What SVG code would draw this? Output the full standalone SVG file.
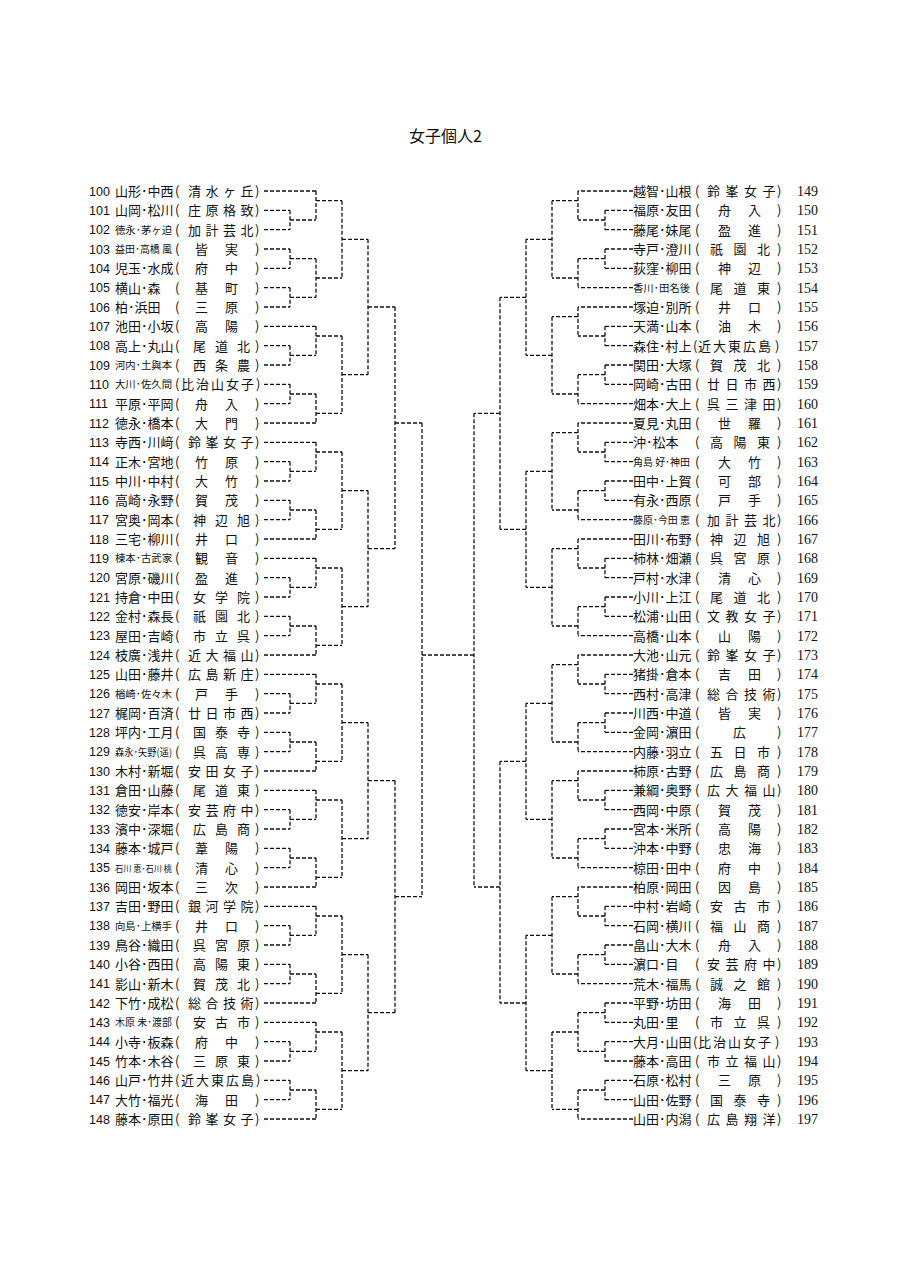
<svg xmlns="http://www.w3.org/2000/svg" width="905" height="1280" viewBox="0 0 905 1280">
<style>
.t{font-family:"Noto Sans CJK JP",sans-serif;font-size:13px;fill:#111}
.s{font-family:"Noto Sans CJK JP",sans-serif;font-size:10px;fill:#111}
.n{font-family:"Liberation Sans",sans-serif;font-size:12.5px;fill:#111}
.rn{font-family:"Liberation Serif",serif;font-size:14px;fill:#111}
.ti{font-family:"Noto Sans CJK JP",sans-serif;font-size:16px;fill:#111}
.c{fill:none;stroke:#111;stroke-width:1.3;stroke-dasharray:4 2}
</style>
<rect width="905" height="1280" fill="#fff"/>
<text id="title" class="ti" x="409" y="142">女子個人2</text>

<g id="connectors">
<path class="c" d="M264 191H316M264 326.3H316M264 423H316M264 442.3H316M264 539H316M264 558.3H316M264 655H316M264 674.3H316M264 771H316M264 790.3H316M264 887H316M264 906.3H316M264 1003H316M264 1022.3H316M264 1119H316"/>
<path class="c" d="M264 210.3H290M264 229.7H290M264 249H290M264 268.3H290M264 287.7H290M264 307H290M264 345.7H290M264 365H290M264 384.3H290M264 403.7H290M264 461.7H290M264 481H290M264 500.3H290M264 519.7H290M264 577.7H290M264 597H290M264 616.3H290M264 635.7H290M264 693.7H290M264 713H290M264 732.3H290M264 751.7H290M264 809.7H290M264 829H290M264 848.3H290M264 867.7H290M264 925.7H290M264 945H290M264 964.3H290M264 983.7H290M264 1041.7H290M264 1061H290M264 1080.3H290M264 1099.7H290"/>
<path class="c" d="M290 210.3V229.7M290 220H316M290 249V268.3M290 258.7H316M290 287.7V307M290 297.3H316M290 345.7V365M290 355.3H316M290 384.3V403.7M290 394H316M290 461.7V481M290 471.3H316M290 500.3V519.7M290 510H316M290 577.7V597M290 587.3H316M290 616.3V635.7M290 626H316M290 693.7V713M290 703.3H316M290 732.3V751.7M290 742H316M290 809.7V829M290 819.3H316M290 848.3V867.7M290 858H316M290 925.7V945M290 935.3H316M290 964.3V983.7M290 974H316M290 1041.7V1061M290 1051.3H316M290 1080.3V1099.7M290 1090H316"/>
<path class="c" d="M316 191V220M316 200.7H342M316 258.7V297.3M316 278H342M316 326.3V355.3M316 336H342M316 394V423M316 413.3H342M316 442.3V471.3M316 452H342M316 510V539M316 529.3H342M316 558.3V587.3M316 568H342M316 626V655M316 645.3H342M316 674.3V703.3M316 684H342M316 742V771M316 761.3H342M316 790.3V819.3M316 800H342M316 858V887M316 877.3H342M316 906.3V935.3M316 916H342M316 974V1003M316 993.3H342M316 1022.3V1051.3M316 1032H342M316 1090V1119M316 1109.3H342"/>
<path class="c" d="M342 200.7V278M342 239.3H368M342 336V413.3M342 374.7H368M342 452V529.3M342 490.7H368M342 568V645.3M342 606.7H368M342 684V761.3M342 722.7H368M342 800V877.3M342 838.7H368M342 916V993.3M342 954.7H368M342 1032V1109.3M342 1070.7H368"/>
<path class="c" d="M368 239.3V374.7M368 307H395M368 490.7V606.7M368 548.7H395M368 722.7V838.7M368 780.7H395M368 954.7V1070.7M368 1012.7H395"/>
<path class="c" d="M395 307V548.7M395 423H422M395 780.7V1012.7M395 896.7H422"/>
<path class="c" d="M422 423V896.7M422 655H474"/>
<path class="c" d="M474 413.3V887"/>
<path class="c" d="M500 297.3V529.3M500 413.3H474M500 761.3V1003M500 887H474"/>
<path class="c" d="M526 239.3V355.3M526 297.3H500M526 471.3V587.3M526 529.3H500M526 703.3V819.3M526 761.3H500M526 935.3V1070.7M526 1003H500"/>
<path class="c" d="M552 200.7V278M552 239.3H526M552 316.7V394M552 355.3H526M552 432.7V510M552 471.3H526M552 548.7V626M552 587.3H526M552 664.7V742M552 703.3H526M552 780.7V858M552 819.3H526M552 896.7V974M552 935.3H526M552 1032V1109.3M552 1070.7H526"/>
<path class="c" d="M578 191V220M578 200.7H552M578 258.7V287.7M578 278H552M578 307V336M578 316.7H552M578 374.7V403.7M578 394H552M578 423V452M578 432.7H552M578 490.7V519.7M578 510H552M578 539V568M578 548.7H552M578 606.7V635.7M578 626H552M578 655V684M578 664.7H552M578 722.7V751.7M578 742H552M578 771V800M578 780.7H552M578 838.7V867.7M578 858H552M578 887V916M578 896.7H552M578 954.7V983.7M578 974H552M578 1012.7V1051.3M578 1032H552M578 1090V1119M578 1109.3H552"/>
<path class="c" d="M605 210.3V229.7M605 220H578M605 249V268.3M605 258.7H578M605 326.3V345.7M605 336H578M605 365V384.3M605 374.7H578M605 442.3V461.7M605 452H578M605 481V500.3M605 490.7H578M605 558.3V577.7M605 568H578M605 597V616.3M605 606.7H578M605 674.3V693.7M605 684H578M605 713V732.3M605 722.7H578M605 790.3V809.7M605 800H578M605 829V848.3M605 838.7H578M605 906.3V925.7M605 916H578M605 945V964.3M605 954.7H578M605 1003V1022.3M605 1012.7H578M605 1041.7V1061M605 1051.3H578M605 1080.3V1099.7M605 1090H578"/>
<path class="c" d="M633 191H578M633 287.7H578M633 307H578M633 403.7H578M633 423H578M633 519.7H578M633 539H578M633 635.7H578M633 655H578M633 751.7H578M633 771H578M633 867.7H578M633 887H578M633 983.7H578M633 1119H578"/>
<path class="c" d="M633 210.3H605M633 229.7H605M633 249H605M633 268.3H605M633 326.3H605M633 345.7H605M633 365H605M633 384.3H605M633 442.3H605M633 461.7H605M633 481H605M633 500.3H605M633 558.3H605M633 577.7H605M633 597H605M633 616.3H605M633 674.3H605M633 693.7H605M633 713H605M633 732.3H605M633 790.3H605M633 809.7H605M633 829H605M633 848.3H605M633 906.3H605M633 925.7H605M633 945H605M633 964.3H605M633 1003H605M633 1022.3H605M633 1041.7H605M633 1061H605M633 1080.3H605M633 1099.7H605"/>
</g>

<g id="left">
<g id="e100" transform="translate(0,191)"><text class="n" x="89" y="4.5">100</text><text class="t" x="115" y="5">山形･中西</text><text class="t" x="175 188 205.5 223 240.5 255" y="5">(清水ヶ丘)</text></g>
<g id="e101" transform="translate(0,210.3)"><text class="n" x="89" y="4.5">101</text><text class="t" x="115" y="5">山岡･松川</text><text class="t" x="175 188 205.5 223 240.5 255" y="5">(庄原格致)</text></g>
<g id="e102" transform="translate(0,229.7)"><text class="n" x="89" y="4.5">102</text><text class="s" x="115" y="4" textLength="57" lengthAdjust="spacingAndGlyphs">徳永･茅ヶ迫</text><text class="t" x="175 188 205.5 223 240.5 255" y="5">(加計芸北)</text></g>
<g id="e103" transform="translate(0,249)"><text class="n" x="89" y="4.5">103</text><text class="s" x="115" y="4" textLength="57" lengthAdjust="spacingAndGlyphs">益田･高橋 風</text><text class="t" x="175 195 225 255" y="5">(皆実)</text></g>
<g id="e104" transform="translate(0,268.3)"><text class="n" x="89" y="4.5">104</text><text class="t" x="115" y="5">児玉･水成</text><text class="t" x="175 195 225 255" y="5">(府中)</text></g>
<g id="e105" transform="translate(0,287.7)"><text class="n" x="89" y="4.5">105</text><text class="t" x="115" y="5">横山･森</text><text class="t" x="175 195 225 255" y="5">(基町)</text></g>
<g id="e106" transform="translate(0,307)"><text class="n" x="89" y="4.5">106</text><text class="t" x="115" y="5">柏･浜田</text><text class="t" x="175 195 225 255" y="5">(三原)</text></g>
<g id="e107" transform="translate(0,326.3)"><text class="n" x="89" y="4.5">107</text><text class="t" x="115" y="5">池田･小坂</text><text class="t" x="175 195 225 255" y="5">(高陽)</text></g>
<g id="e108" transform="translate(0,345.7)"><text class="n" x="89" y="4.5">108</text><text class="t" x="115" y="5">高上･丸山</text><text class="t" x="175 193 215 237 255" y="5">(尾道北)</text></g>
<g id="e109" transform="translate(0,365)"><text class="n" x="89" y="4.5">109</text><text class="s" x="115" y="4" textLength="57" lengthAdjust="spacingAndGlyphs">河内･土與本</text><text class="t" x="175 193 215 237 255" y="5">(西条農)</text></g>
<g id="e110" transform="translate(0,384.3)"><text class="n" x="89" y="4.5">110</text><text class="s" x="115" y="4" textLength="57" lengthAdjust="spacingAndGlyphs">大川･佐久間</text><text class="t" x="175 181 196 211 226 241 256" y="5">(比治山女子)</text></g>
<g id="e111" transform="translate(0,403.7)"><text class="n" x="89" y="4.5">111</text><text class="t" x="115" y="5">平原･平岡</text><text class="t" x="175 195 225 255" y="5">(舟入)</text></g>
<g id="e112" transform="translate(0,423)"><text class="n" x="89" y="4.5">112</text><text class="t" x="115" y="5">徳永･橋本</text><text class="t" x="175 195 225 255" y="5">(大門)</text></g>
<g id="e113" transform="translate(0,442.3)"><text class="n" x="89" y="4.5">113</text><text class="t" x="115" y="5">寺西･川﨑</text><text class="t" x="175 188 205.5 223 240.5 255" y="5">(鈴峯女子)</text></g>
<g id="e114" transform="translate(0,461.7)"><text class="n" x="89" y="4.5">114</text><text class="t" x="115" y="5">正木･宮地</text><text class="t" x="175 195 225 255" y="5">(竹原)</text></g>
<g id="e115" transform="translate(0,481)"><text class="n" x="89" y="4.5">115</text><text class="t" x="115" y="5">中川･中村</text><text class="t" x="175 195 225 255" y="5">(大竹)</text></g>
<g id="e116" transform="translate(0,500.3)"><text class="n" x="89" y="4.5">116</text><text class="t" x="115" y="5">高崎･永野</text><text class="t" x="175 195 225 255" y="5">(賀茂)</text></g>
<g id="e117" transform="translate(0,519.7)"><text class="n" x="89" y="4.5">117</text><text class="t" x="115" y="5">宮奥･岡本</text><text class="t" x="175 193 215 237 255" y="5">(神辺旭)</text></g>
<g id="e118" transform="translate(0,539)"><text class="n" x="89" y="4.5">118</text><text class="t" x="115" y="5">三宅･柳川</text><text class="t" x="175 195 225 255" y="5">(井口)</text></g>
<g id="e119" transform="translate(0,558.3)"><text class="n" x="89" y="4.5">119</text><text class="s" x="115" y="4" textLength="57" lengthAdjust="spacingAndGlyphs">棟本･古武家</text><text class="t" x="175 195 225 255" y="5">(観音)</text></g>
<g id="e120" transform="translate(0,577.7)"><text class="n" x="89" y="4.5">120</text><text class="t" x="115" y="5">宮原･磯川</text><text class="t" x="175 195 225 255" y="5">(盈進)</text></g>
<g id="e121" transform="translate(0,597)"><text class="n" x="89" y="4.5">121</text><text class="t" x="115" y="5">持倉･中田</text><text class="t" x="175 193 215 237 255" y="5">(女学院)</text></g>
<g id="e122" transform="translate(0,616.3)"><text class="n" x="89" y="4.5">122</text><text class="t" x="115" y="5">金村･森長</text><text class="t" x="175 193 215 237 255" y="5">(祇園北)</text></g>
<g id="e123" transform="translate(0,635.7)"><text class="n" x="89" y="4.5">123</text><text class="t" x="115" y="5">屋田･吉崎</text><text class="t" x="175 193 215 237 255" y="5">(市立呉)</text></g>
<g id="e124" transform="translate(0,655)"><text class="n" x="89" y="4.5">124</text><text class="t" x="115" y="5">枝廣･浅井</text><text class="t" x="175 188 205.5 223 240.5 255" y="5">(近大福山)</text></g>
<g id="e125" transform="translate(0,674.3)"><text class="n" x="89" y="4.5">125</text><text class="t" x="115" y="5">山田･藤井</text><text class="t" x="175 188 205.5 223 240.5 255" y="5">(広島新庄)</text></g>
<g id="e126" transform="translate(0,693.7)"><text class="n" x="89" y="4.5">126</text><text class="s" x="115" y="4" textLength="57" lengthAdjust="spacingAndGlyphs">楢崎･佐々木</text><text class="t" x="175 195 225 255" y="5">(戸手)</text></g>
<g id="e127" transform="translate(0,713)"><text class="n" x="89" y="4.5">127</text><text class="t" x="115" y="5">梶岡･百済</text><text class="t" x="175 188 205.5 223 240.5 255" y="5">(廿日市西)</text></g>
<g id="e128" transform="translate(0,732.3)"><text class="n" x="89" y="4.5">128</text><text class="t" x="115" y="5">坪内･工月</text><text class="t" x="175 193 215 237 255" y="5">(国泰寺)</text></g>
<g id="e129" transform="translate(0,751.7)"><text class="n" x="89" y="4.5">129</text><text class="s" x="115" y="4" textLength="57" lengthAdjust="spacingAndGlyphs">森永･矢野(遥)</text><text class="t" x="175 193 215 237 255" y="5">(呉高専)</text></g>
<g id="e130" transform="translate(0,771)"><text class="n" x="89" y="4.5">130</text><text class="t" x="115" y="5">木村･新堀</text><text class="t" x="175 188 205.5 223 240.5 255" y="5">(安田女子)</text></g>
<g id="e131" transform="translate(0,790.3)"><text class="n" x="89" y="4.5">131</text><text class="t" x="115" y="5">倉田･山藤</text><text class="t" x="175 193 215 237 255" y="5">(尾道東)</text></g>
<g id="e132" transform="translate(0,809.7)"><text class="n" x="89" y="4.5">132</text><text class="t" x="115" y="5">徳安･岸本</text><text class="t" x="175 188 205.5 223 240.5 255" y="5">(安芸府中)</text></g>
<g id="e133" transform="translate(0,829)"><text class="n" x="89" y="4.5">133</text><text class="t" x="115" y="5">濱中･深堀</text><text class="t" x="175 193 215 237 255" y="5">(広島商)</text></g>
<g id="e134" transform="translate(0,848.3)"><text class="n" x="89" y="4.5">134</text><text class="t" x="115" y="5">藤本･城戸</text><text class="t" x="175 195 225 255" y="5">(葦陽)</text></g>
<g id="e135" transform="translate(0,867.7)"><text class="n" x="89" y="4.5">135</text><text class="s" x="115" y="4" font-size="8.6" textLength="57" lengthAdjust="spacingAndGlyphs" style="font-size:8.6px">石川 恵･石川 桃</text><text class="t" x="175 195 225 255" y="5">(清心)</text></g>
<g id="e136" transform="translate(0,887)"><text class="n" x="89" y="4.5">136</text><text class="t" x="115" y="5">岡田･坂本</text><text class="t" x="175 195 225 255" y="5">(三次)</text></g>
<g id="e137" transform="translate(0,906.3)"><text class="n" x="89" y="4.5">137</text><text class="t" x="115" y="5">吉田･野田</text><text class="t" x="175 188 205.5 223 240.5 255" y="5">(銀河学院)</text></g>
<g id="e138" transform="translate(0,925.7)"><text class="n" x="89" y="4.5">138</text><text class="s" x="115" y="4" textLength="57" lengthAdjust="spacingAndGlyphs">向島･上横手</text><text class="t" x="175 195 225 255" y="5">(井口)</text></g>
<g id="e139" transform="translate(0,945)"><text class="n" x="89" y="4.5">139</text><text class="t" x="115" y="5">鳥谷･織田</text><text class="t" x="175 193 215 237 255" y="5">(呉宮原)</text></g>
<g id="e140" transform="translate(0,964.3)"><text class="n" x="89" y="4.5">140</text><text class="t" x="115" y="5">小谷･西田</text><text class="t" x="175 193 215 237 255" y="5">(高陽東)</text></g>
<g id="e141" transform="translate(0,983.7)"><text class="n" x="89" y="4.5">141</text><text class="t" x="115" y="5">影山･新木</text><text class="t" x="175 193 215 237 255" y="5">(賀茂北)</text></g>
<g id="e142" transform="translate(0,1003)"><text class="n" x="89" y="4.5">142</text><text class="t" x="115" y="5">下竹･成松</text><text class="t" x="175 188 205.5 223 240.5 255" y="5">(総合技術)</text></g>
<g id="e143" transform="translate(0,1022.3)"><text class="n" x="89" y="4.5">143</text><text class="s" x="115" y="4" textLength="57" lengthAdjust="spacingAndGlyphs">木原 未･渡部</text><text class="t" x="175 193 215 237 255" y="5">(安古市)</text></g>
<g id="e144" transform="translate(0,1041.7)"><text class="n" x="89" y="4.5">144</text><text class="t" x="115" y="5">小寺･板森</text><text class="t" x="175 195 225 255" y="5">(府中)</text></g>
<g id="e145" transform="translate(0,1061)"><text class="n" x="89" y="4.5">145</text><text class="t" x="115" y="5">竹本･木谷</text><text class="t" x="175 193 215 237 255" y="5">(三原東)</text></g>
<g id="e146" transform="translate(0,1080.3)"><text class="n" x="89" y="4.5">146</text><text class="t" x="115" y="5">山戸･竹井</text><text class="t" x="175 181 196 211 226 241 256" y="5">(近大東広島)</text></g>
<g id="e147" transform="translate(0,1099.7)"><text class="n" x="89" y="4.5">147</text><text class="t" x="115" y="5">大竹･福光</text><text class="t" x="175 195 225 255" y="5">(海田)</text></g>
<g id="e148" transform="translate(0,1119)"><text class="n" x="89" y="4.5">148</text><text class="t" x="115" y="5">藤本･原田</text><text class="t" x="175 188 205.5 223 240.5 255" y="5">(鈴峯女子)</text></g>
</g>

<g id="right">
<g id="e149" transform="translate(0,191)"><text class="t" x="633" y="5">越智･山根</text><text class="t" x="695 707 725.5 744 762.5 777" y="5">(鈴峯女子)</text><text class="rn" x="797" y="5">149</text></g>
<g id="e150" transform="translate(0,210.3)"><text class="t" x="633" y="5">福原･友田</text><text class="t" x="695 718 748 777" y="5">(舟入)</text><text class="rn" x="797" y="5">150</text></g>
<g id="e151" transform="translate(0,229.7)"><text class="t" x="633" y="5">藤尾･妹尾</text><text class="t" x="695 718 748 777" y="5">(盈進)</text><text class="rn" x="797" y="5">151</text></g>
<g id="e152" transform="translate(0,249)"><text class="t" x="633" y="5">寺戸･澄川</text><text class="t" x="695 710 733.5 757 777" y="5">(祇園北)</text><text class="rn" x="797" y="5">152</text></g>
<g id="e153" transform="translate(0,268.3)"><text class="t" x="633" y="5">荻窪･柳田</text><text class="t" x="695 718 748 777" y="5">(神辺)</text><text class="rn" x="797" y="5">153</text></g>
<g id="e154" transform="translate(0,287.7)"><text class="s" x="633" y="4" textLength="57" lengthAdjust="spacingAndGlyphs">香川･田名後</text><text class="t" x="695 710 733.5 757 777" y="5">(尾道東)</text><text class="rn" x="797" y="5">154</text></g>
<g id="e155" transform="translate(0,307)"><text class="t" x="633" y="5">塚迫･別所</text><text class="t" x="695 718 748 777" y="5">(井口)</text><text class="rn" x="797" y="5">155</text></g>
<g id="e156" transform="translate(0,326.3)"><text class="t" x="633" y="5">天満･山本</text><text class="t" x="695 718 748 777" y="5">(油木)</text><text class="rn" x="797" y="5">156</text></g>
<g id="e157" transform="translate(0,345.7)"><text class="t" x="633" y="5">森住･村上</text><text class="t" x="693 698 713 728 743 758 775" y="5">(近大東広島)</text><text class="rn" x="797" y="5">157</text></g>
<g id="e158" transform="translate(0,365)"><text class="t" x="633" y="5">関田･大塚</text><text class="t" x="695 710 733.5 757 777" y="5">(賀茂北)</text><text class="rn" x="797" y="5">158</text></g>
<g id="e159" transform="translate(0,384.3)"><text class="t" x="633" y="5">岡崎･古田</text><text class="t" x="695 707 725.5 744 762.5 777" y="5">(廿日市西)</text><text class="rn" x="797" y="5">159</text></g>
<g id="e160" transform="translate(0,403.7)"><text class="t" x="633" y="5">畑本･大上</text><text class="t" x="695 707 725.5 744 762.5 777" y="5">(呉三津田)</text><text class="rn" x="797" y="5">160</text></g>
<g id="e161" transform="translate(0,423)"><text class="t" x="633" y="5">夏見･丸田</text><text class="t" x="695 718 748 777" y="5">(世羅)</text><text class="rn" x="797" y="5">161</text></g>
<g id="e162" transform="translate(0,442.3)"><text class="t" x="633" y="5">沖･松本</text><text class="t" x="695 710 733.5 757 777" y="5">(高陽東)</text><text class="rn" x="797" y="5">162</text></g>
<g id="e163" transform="translate(0,461.7)"><text class="s" x="633" y="4" textLength="57" lengthAdjust="spacingAndGlyphs">角島 好･神田</text><text class="t" x="695 718 748 777" y="5">(大竹)</text><text class="rn" x="797" y="5">163</text></g>
<g id="e164" transform="translate(0,481)"><text class="t" x="633" y="5">田中･上賀</text><text class="t" x="695 718 748 777" y="5">(可部)</text><text class="rn" x="797" y="5">164</text></g>
<g id="e165" transform="translate(0,500.3)"><text class="t" x="633" y="5">有永･西原</text><text class="t" x="695 718 748 777" y="5">(戸手)</text><text class="rn" x="797" y="5">165</text></g>
<g id="e166" transform="translate(0,519.7)"><text class="s" x="633" y="4" textLength="57" lengthAdjust="spacingAndGlyphs">藤原･今田 恵</text><text class="t" x="695 707 725.5 744 762.5 777" y="5">(加計芸北)</text><text class="rn" x="797" y="5">166</text></g>
<g id="e167" transform="translate(0,539)"><text class="t" x="633" y="5">田川･布野</text><text class="t" x="695 710 733.5 757 777" y="5">(神辺旭)</text><text class="rn" x="797" y="5">167</text></g>
<g id="e168" transform="translate(0,558.3)"><text class="t" x="633" y="5">柿林･畑瀬</text><text class="t" x="695 710 733.5 757 777" y="5">(呉宮原)</text><text class="rn" x="797" y="5">168</text></g>
<g id="e169" transform="translate(0,577.7)"><text class="t" x="633" y="5">戸村･水津</text><text class="t" x="695 718 748 777" y="5">(清心)</text><text class="rn" x="797" y="5">169</text></g>
<g id="e170" transform="translate(0,597)"><text class="t" x="633" y="5">小川･上江</text><text class="t" x="695 710 733.5 757 777" y="5">(尾道北)</text><text class="rn" x="797" y="5">170</text></g>
<g id="e171" transform="translate(0,616.3)"><text class="t" x="633" y="5">松浦･山田</text><text class="t" x="695 707 725.5 744 762.5 777" y="5">(文教女子)</text><text class="rn" x="797" y="5">171</text></g>
<g id="e172" transform="translate(0,635.7)"><text class="t" x="633" y="5">高橋･山本</text><text class="t" x="695 718 748 777" y="5">(山陽)</text><text class="rn" x="797" y="5">172</text></g>
<g id="e173" transform="translate(0,655)"><text class="t" x="633" y="5">大池･山元</text><text class="t" x="695 707 725.5 744 762.5 777" y="5">(鈴峯女子)</text><text class="rn" x="797" y="5">173</text></g>
<g id="e174" transform="translate(0,674.3)"><text class="t" x="633" y="5">猪掛･倉本</text><text class="t" x="695 718 748 777" y="5">(吉田)</text><text class="rn" x="797" y="5">174</text></g>
<g id="e175" transform="translate(0,693.7)"><text class="t" x="633" y="5">西村･高津</text><text class="t" x="695 707 725.5 744 762.5 777" y="5">(総合技術)</text><text class="rn" x="797" y="5">175</text></g>
<g id="e176" transform="translate(0,713)"><text class="t" x="633" y="5">川西･中道</text><text class="t" x="695 718 748 777" y="5">(皆実)</text><text class="rn" x="797" y="5">176</text></g>
<g id="e177" transform="translate(0,732.3)"><text class="t" x="633" y="5">金岡･濵田</text><text class="t" x="695 733 777" y="5">(広)</text><text class="rn" x="797" y="5">177</text></g>
<g id="e178" transform="translate(0,751.7)"><text class="t" x="633" y="5">内藤･羽立</text><text class="t" x="695 710 733.5 757 777" y="5">(五日市)</text><text class="rn" x="797" y="5">178</text></g>
<g id="e179" transform="translate(0,771)"><text class="t" x="633" y="5">柿原･古野</text><text class="t" x="695 710 733.5 757 777" y="5">(広島商)</text><text class="rn" x="797" y="5">179</text></g>
<g id="e180" transform="translate(0,790.3)"><text class="t" x="633" y="5">兼綱･奥野</text><text class="t" x="695 707 725.5 744 762.5 777" y="5">(広大福山)</text><text class="rn" x="797" y="5">180</text></g>
<g id="e181" transform="translate(0,809.7)"><text class="t" x="633" y="5">西岡･中原</text><text class="t" x="695 718 748 777" y="5">(賀茂)</text><text class="rn" x="797" y="5">181</text></g>
<g id="e182" transform="translate(0,829)"><text class="t" x="633" y="5">宮本･米所</text><text class="t" x="695 718 748 777" y="5">(高陽)</text><text class="rn" x="797" y="5">182</text></g>
<g id="e183" transform="translate(0,848.3)"><text class="t" x="633" y="5">沖本･中野</text><text class="t" x="695 718 748 777" y="5">(忠海)</text><text class="rn" x="797" y="5">183</text></g>
<g id="e184" transform="translate(0,867.7)"><text class="t" x="633" y="5">椋田･田中</text><text class="t" x="695 718 748 777" y="5">(府中)</text><text class="rn" x="797" y="5">184</text></g>
<g id="e185" transform="translate(0,887)"><text class="t" x="633" y="5">柏原･岡田</text><text class="t" x="695 718 748 777" y="5">(因島)</text><text class="rn" x="797" y="5">185</text></g>
<g id="e186" transform="translate(0,906.3)"><text class="t" x="633" y="5">中村･岩崎</text><text class="t" x="695 710 733.5 757 777" y="5">(安古市)</text><text class="rn" x="797" y="5">186</text></g>
<g id="e187" transform="translate(0,925.7)"><text class="t" x="633" y="5">石岡･横川</text><text class="t" x="695 710 733.5 757 777" y="5">(福山商)</text><text class="rn" x="797" y="5">187</text></g>
<g id="e188" transform="translate(0,945)"><text class="t" x="633" y="5">畠山･大木</text><text class="t" x="695 718 748 777" y="5">(舟入)</text><text class="rn" x="797" y="5">188</text></g>
<g id="e189" transform="translate(0,964.3)"><text class="t" x="633" y="5">濵口･目</text><text class="t" x="695 707 725.5 744 762.5 777" y="5">(安芸府中)</text><text class="rn" x="797" y="5">189</text></g>
<g id="e190" transform="translate(0,983.7)"><text class="t" x="633" y="5">荒木･福馬</text><text class="t" x="695 710 733.5 757 777" y="5">(誠之館)</text><text class="rn" x="797" y="5">190</text></g>
<g id="e191" transform="translate(0,1003)"><text class="t" x="633" y="5">平野･坊田</text><text class="t" x="695 718 748 777" y="5">(海田)</text><text class="rn" x="797" y="5">191</text></g>
<g id="e192" transform="translate(0,1022.3)"><text class="t" x="633" y="5">丸田･里</text><text class="t" x="695 710 733.5 757 777" y="5">(市立呉)</text><text class="rn" x="797" y="5">192</text></g>
<g id="e193" transform="translate(0,1041.7)"><text class="t" x="633" y="5">大月･山田</text><text class="t" x="693 698 713 728 743 758 775" y="5">(比治山女子)</text><text class="rn" x="797" y="5">193</text></g>
<g id="e194" transform="translate(0,1061)"><text class="t" x="633" y="5">藤本･高田</text><text class="t" x="695 707 725.5 744 762.5 777" y="5">(市立福山)</text><text class="rn" x="797" y="5">194</text></g>
<g id="e195" transform="translate(0,1080.3)"><text class="t" x="633" y="5">石原･松村</text><text class="t" x="695 718 748 777" y="5">(三原)</text><text class="rn" x="797" y="5">195</text></g>
<g id="e196" transform="translate(0,1099.7)"><text class="t" x="633" y="5">山田･佐野</text><text class="t" x="695 710 733.5 757 777" y="5">(国泰寺)</text><text class="rn" x="797" y="5">196</text></g>
<g id="e197" transform="translate(0,1119)"><text class="t" x="633" y="5">山田･内潟</text><text class="t" x="695 707 725.5 744 762.5 777" y="5">(広島翔洋)</text><text class="rn" x="797" y="5">197</text></g>
</g>
</svg>
